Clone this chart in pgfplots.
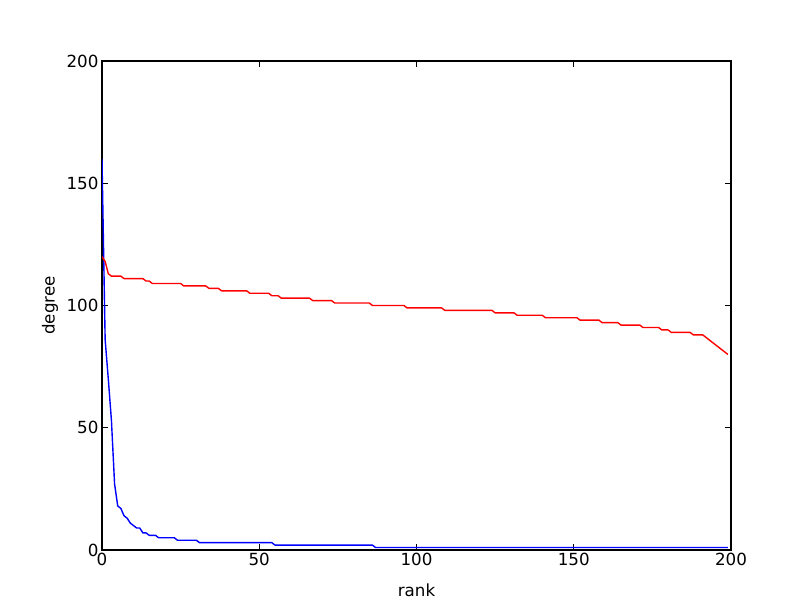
\documentclass[border=0pt]{standalone}
\usepackage{fontspec}
\setmainfont{DejaVu Sans}
\usepackage{pgfplots}
\pgfplotsset{compat=1.18}
\begin{document}
\begin{tikzpicture}[x=1pt,y=1pt]
\path[use as bounding box] (0,0) rectangle (812,612);
\begin{axis}[
  at={(102pt,62pt)}, anchor=south west,
  scale only axis, width=629pt, height=489pt,
  xmin=0, xmax=200, ymin=0, ymax=200,
  xtick={0,50,100,150,200}, ytick={0,50,100,150,200},
  tick align=inside, major tick length=5.6pt,
  tick style={black, line width=0.7pt},
  axis line style={black, line width=1.3pt},
  font=\fontsize{16.7}{20}\selectfont,
  /pgf/number format/assume math mode=true,
  xlabel={rank}, ylabel={degree},
  xlabel style={anchor=center, at={(axis description cs:0.5,-0.0818)}},
  ylabel style={anchor=center, rotate=0, at={(axis description cs:-0.0827,0.5)}},
  clip=true,
]
\addplot[blue, line width=1.4pt, line join=round] coordinates {
(0,160) (1,86) (2,70) (3,53) (4,27) (5,18) (6,17) (7,14) (8,13) (9,11)
(10,10) (11,9) (12,9) (13,7) (14,7) (15,6) (17,6) (18,5) (23,5) (24,4)
(30,4) (31,3) (54,3) (55,2) (86,2) (87,1) (199,1)
};
\addplot[red, line width=1.4pt, line join=round] coordinates {
(0,120) (1,118) (2,113) (3,112) (6,112) (7,111) (13,111) (14,110) (15,110)
(16,109) (25,109) (26,108) (33,108) (34,107) (37,107) (38,106) (46,106)
(47,105) (53,105) (54,104) (56,104) (57,103) (66,103) (67,102) (73,102)
(74,101) (85,101) (86,100) (96,100) (97,99) (108,99) (109,98) (124,98)
(125,97) (131,97) (132,96) (140,96) (141,95) (151,95) (152,94) (158,94)
(159,93) (164,93) (165,92) (171,92) (172,91) (177,91) (178,90) (180,90)
(181,89) (187,89) (188,88) (191,88) (192,87) (193,86) (194,85) (195,84)
(196,83) (197,82) (198,81) (199,80)
};
\end{axis}
\end{tikzpicture}
\end{document}
